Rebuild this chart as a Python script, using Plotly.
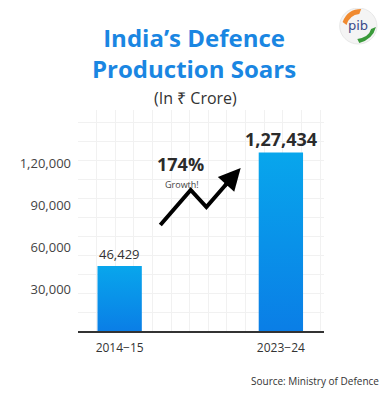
import plotly.graph_objects as go

# ---- data ----
categories = ["2014\u221215", "2023\u221224"]
values = [46429, 127434]
value_labels = ["46,429", "1,27,434"]
tick_vals = [30000, 60000, 90000, 120000]
tick_text = ["30,000", "60,000", "90,000", "1,20,000"]
growth_label = "174%"

# page body has an 8px margin: work in reference pixels, shift by OFF
OFF = 8
W, H = 388 - OFF, 393 - OFF
# plot area in reference pixels: x 73..324, y 110..331
PL, PR, PT, PB = 73, 324, 110, 331
L, R, T, B = PL - OFF, 388 - PR, PT - OFF, 393 - PB
PX_PER_UNIT_X = 164.5
X0_PX = 115.5
X_MIN = (PL - X0_PX) / PX_PER_UNIT_X
X_MAX = (PR - X0_PX) / PX_PER_UNIT_X
Y_MAX = (PB - PT) / 1.4 * 1000
BAR_W = 0.275

def py(y):  # reference pixel y -> paper y
    return (PB - y) / (PB - PT)

def px(x):  # reference pixel x -> paper x
    return (x - PL) / (PR - PL)

def text_at(x, y, text, size, color, family="Open Sans", xanchor="center"):
    fig.add_annotation(xref="paper", yref="paper", x=px(x), y=py(y),
                       xanchor=xanchor, yanchor="middle", text=text, showarrow=False,
                       font=dict(family=family, size=size, color=color))

fig = go.Figure()

# bars with vertical gradient
for i, v in enumerate(values):
    x0, x1 = i - BAR_W / 2, i + BAR_W / 2
    fig.add_trace(go.Scatter(
        x=[x0, x1, x1, x0, x0], y=[0, 0, v, v, 0],
        mode="lines", line=dict(width=0), fill="toself",
        fillgradient=dict(type="vertical", start=0, stop=v,
                          colorscale=[[0, "#0a7ee6"], [1, "#08a6ec"]]),
        hoverinfo="skip", showlegend=False))

# value labels
fig.add_annotation(x=0, y=values[0], text=value_labels[0], showarrow=False,
                   xanchor="center", yanchor="bottom", yshift=1,
                   font=dict(family="Open Sans", size=13, color="#333333"))
fig.add_annotation(x=1, y=values[1], text=f"<b>{value_labels[1]}</b>", showarrow=False,
                   xanchor="center", yanchor="bottom", yshift=0,
                   font=dict(family="Open Sans", size=18, color="#2b2b2b"))

# title (two lines in one text block)
text_at(191, 53, "<b>India\u2019s Defence</b><br><b>Production Soars</b>", 24, "#1a86e2")
text_at(193, 98, "(In \u20b9 Crore)", 16, "#333333")

# growth annotation
text_at(178, 164, f"<b>{growth_label}</b>", 18, "#2b2b2b")
text_at(179, 184, "Growth!", 9, "#444444")
pts = [(157, 225), (188, 190), (204, 207), (228, 180)]
path = "M " + " L ".join(f"{px(a)},{py(b)}" for a, b in pts)
fig.add_shape(type="path", xref="paper", yref="paper", path=path,
              line=dict(color="black", width=4))
fig.add_annotation(xref="paper", yref="paper", x=px(239), y=py(168),
                   ax=-17, ay=19,
                   text="", showarrow=True, arrowhead=2, arrowsize=1.1,
                   arrowwidth=4, arrowcolor="black")

# source
text_at(382, 381, "Source: Ministry of Defence", 10, "#333333", xanchor="right")

# logo approximation
fig.add_shape(type="circle", xref="paper", yref="paper",
              x0=px(340), x1=px(378), y0=py(44), y1=py(8),
              fillcolor="#f4f4f4", line=dict(color="#e8e8e8", width=1))
fig.add_shape(type="path", xref="paper", yref="paper",
              path=f"M {px(343)},{py(22)} Q {px(348)},{py(9)} {px(362)},{py(9)} L {px(360)},{py(14)} Q {px(350)},{py(15)} {px(347)},{py(25)} Z",
              fillcolor="#f08a30", line=dict(width=0))
fig.add_shape(type="path", xref="paper", yref="paper",
              path=f"M {px(360)},{py(43)} Q {px(374)},{py(39)} {px(377)},{py(27)} L {px(372)},{py(29)} Q {px(370)},{py(37)} {px(358)},{py(39)} Z",
              fillcolor="#3a9a3a", line=dict(width=0))
text_at(359, 25, "pib", 13, "#3a4a8a", family="DejaVu Sans")

fig.update_layout(
    width=W, height=H,
    margin=dict(l=L, r=R, t=T, b=B, pad=0),
    paper_bgcolor="white", plot_bgcolor="white",
    showlegend=False,
    xaxis=dict(range=[X_MIN, X_MAX], tickvals=[0, 1], ticktext=categories,
               showgrid=False, zeroline=False, showline=True, linecolor="#333333",
               linewidth=2, ticks="", ticklen=0,
               tickfont=dict(family="Open Sans", size=12, color="#333333"),
               ticklabelstandoff=5, fixedrange=True,
               minor=dict(dtick=0.1155, tick0=X_MIN, showgrid=True, gridcolor="#f1f1f1", gridwidth=1)),
    yaxis=dict(range=[0, Y_MAX], tickvals=tick_vals, ticktext=tick_text,
               showgrid=False, zeroline=False, showline=False, ticks="",
               tickfont=dict(family="Open Sans", size=13, color="#444444"),
               ticklabelstandoff=6, fixedrange=True,
               minor=dict(dtick=13571, tick0=0, showgrid=True, gridcolor="#f1f1f1", gridwidth=1)),
)

fig.write_html("out.html")
